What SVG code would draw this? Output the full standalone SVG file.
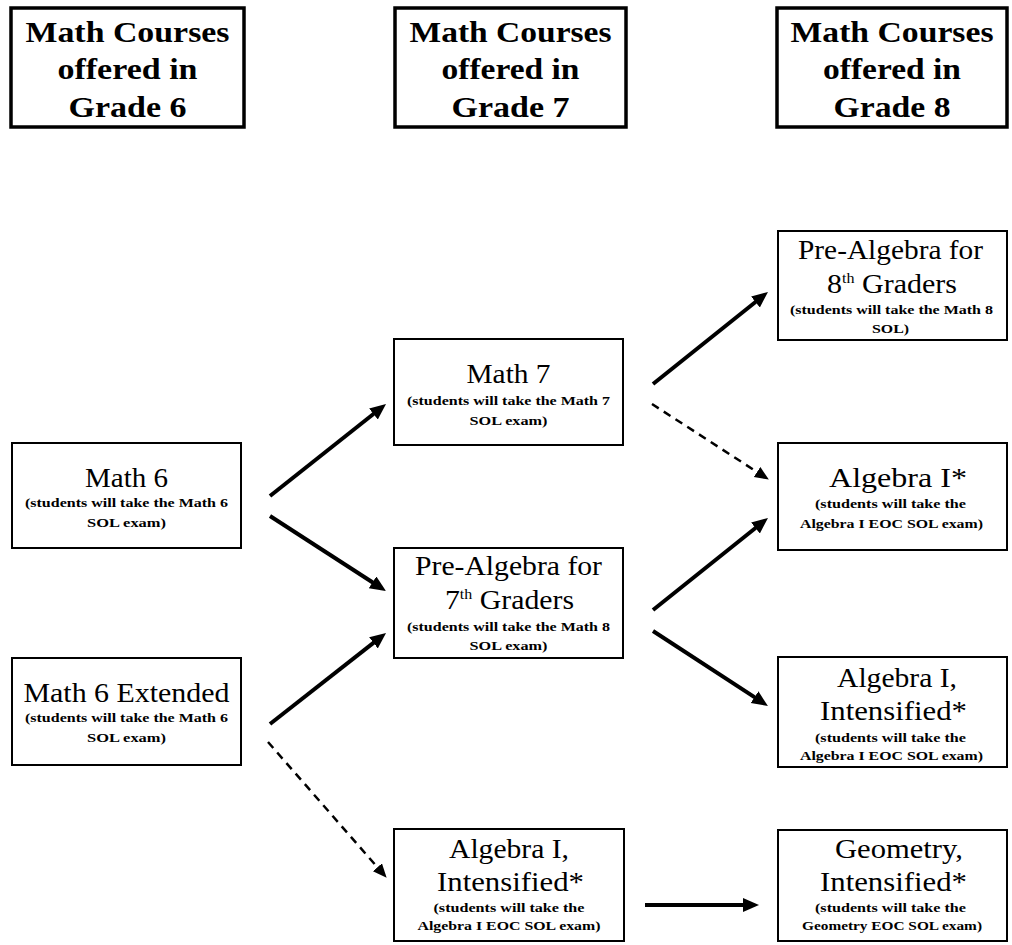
<svg xmlns="http://www.w3.org/2000/svg" width="1012" height="945" viewBox="0 0 1012 945">
<style>
.hdr{fill:#fff;stroke:#000;stroke-width:3.5}
.box{fill:#fff;stroke:#000;stroke-width:2}
.h{font-family:"Liberation Serif","Times New Roman",serif;font-weight:bold;font-size:29px;text-anchor:middle;fill:#000}
.t{font-family:"Liberation Serif","Times New Roman",serif;font-size:28px;text-anchor:middle;fill:#000}
.s{font-family:"Liberation Serif","Times New Roman",serif;font-weight:bold;font-size:13.5px;text-anchor:middle;fill:#000}
.sup{font-size:15px}
.solid{stroke:#000;stroke-width:4;fill:none;marker-end:url(#ah)}
.dash{stroke:#000;stroke-width:2.5;fill:none;stroke-dasharray:8 6;marker-end:url(#ahd)}
</style>
<defs>
<marker id="ah" markerUnits="userSpaceOnUse" markerWidth="20" markerHeight="16" refX="4" refY="7" orient="auto"><path d="M0,0 L16,7 L0,14 z" fill="#000"/></marker>
<marker id="ahd" markerUnits="userSpaceOnUse" markerWidth="18" markerHeight="14" refX="3" refY="6" orient="auto"><path d="M0,0 L14,6 L0,12 z" fill="#000"/></marker>
</defs>
<rect width="1012" height="945" fill="#fff"/>

<g id="hdr6">
<rect class="hdr" x="11" y="8" width="233" height="119"/>
<text class="h" x="127.5" y="42" textLength="204" lengthAdjust="spacingAndGlyphs">Math Courses</text>
<text class="h" x="127.5" y="79" textLength="140" lengthAdjust="spacingAndGlyphs">offered in</text>
<text class="h" x="127.5" y="117" textLength="118" lengthAdjust="spacingAndGlyphs">Grade 6</text>
</g>
<g id="hdr7">
<rect class="hdr" x="395" y="8" width="231" height="119"/>
<text class="h" x="510.5" y="42" textLength="202" lengthAdjust="spacingAndGlyphs">Math Courses</text>
<text class="h" x="510.5" y="79" textLength="138" lengthAdjust="spacingAndGlyphs">offered in</text>
<text class="h" x="510.5" y="117" textLength="118" lengthAdjust="spacingAndGlyphs">Grade 7</text>
</g>
<g id="hdr8">
<rect class="hdr" x="777" y="8" width="230" height="119"/>
<text class="h" x="892" y="42" textLength="203" lengthAdjust="spacingAndGlyphs">Math Courses</text>
<text class="h" x="892" y="79" textLength="138" lengthAdjust="spacingAndGlyphs">offered in</text>
<text class="h" x="892" y="117" textLength="117" lengthAdjust="spacingAndGlyphs">Grade 8</text>
</g>

<g id="math6">
<rect class="box" x="12" y="443" width="229" height="105"/>
<text class="t" x="126.5" y="487" textLength="83" lengthAdjust="spacingAndGlyphs">Math 6</text>
<text class="s" x="126.5" y="507" textLength="203" lengthAdjust="spacingAndGlyphs">(students will take the Math 6</text>
<text class="s" x="126.5" y="527" textLength="79" lengthAdjust="spacingAndGlyphs">SOL exam)</text>
</g>
<g id="math6ext">
<rect class="box" x="12" y="658" width="229" height="107"/>
<text class="t" x="126.5" y="702" textLength="206" lengthAdjust="spacingAndGlyphs">Math 6 Extended</text>
<text class="s" x="126.5" y="722" textLength="203" lengthAdjust="spacingAndGlyphs">(students will take the Math 6</text>
<text class="s" x="126.5" y="742" textLength="79" lengthAdjust="spacingAndGlyphs">SOL exam)</text>
</g>
<g id="math7">
<rect class="box" x="394" y="339" width="229" height="106"/>
<text class="t" x="508.5" y="383" textLength="84" lengthAdjust="spacingAndGlyphs">Math 7</text>
<text class="s" x="508.5" y="405" textLength="203" lengthAdjust="spacingAndGlyphs">(students will take the Math 7</text>
<text class="s" x="508.5" y="425" textLength="78" lengthAdjust="spacingAndGlyphs">SOL exam)</text>
</g>
<g id="prealg7">
<rect class="box" x="394" y="548" width="229" height="110"/>
<text class="t" x="508.5" y="575" textLength="187" lengthAdjust="spacingAndGlyphs">Pre-Algebra for</text>
<text class="t" x="509.5" y="609" textLength="129" lengthAdjust="spacingAndGlyphs">7<tspan class="sup" dy="-10">th</tspan><tspan dy="10"> Graders</tspan></text>
<text class="s" x="508.5" y="631" textLength="203" lengthAdjust="spacingAndGlyphs">(students will take the Math 8</text>
<text class="s" x="508.5" y="650" textLength="78" lengthAdjust="spacingAndGlyphs">SOL exam)</text>
</g>
<g id="alg1int7">
<rect class="box" x="394" y="829" width="230" height="112"/>
<text class="t" x="509" y="858" textLength="120" lengthAdjust="spacingAndGlyphs">Algebra I,</text>
<text class="t" x="510.5" y="891" textLength="147" lengthAdjust="spacingAndGlyphs">Intensified*</text>
<text class="s" x="509" y="912" textLength="151" lengthAdjust="spacingAndGlyphs">(students will take the</text>
<text class="s" x="509" y="930" textLength="183" lengthAdjust="spacingAndGlyphs">Algebra I EOC SOL exam)</text>
</g>

<g id="prealg8">
<rect class="box" x="778" y="231" width="229" height="109"/>
<text class="t" x="890.5" y="259" textLength="185" lengthAdjust="spacingAndGlyphs">Pre-Algebra for</text>
<text class="t" x="892" y="293" textLength="130" lengthAdjust="spacingAndGlyphs">8<tspan class="sup" dy="-10">th</tspan><tspan dy="10"> Graders</tspan></text>
<text class="s" x="891.5" y="314" textLength="203" lengthAdjust="spacingAndGlyphs">(students will take the Math 8</text>
<text class="s" x="890.5" y="333" textLength="37" lengthAdjust="spacingAndGlyphs">SOL)</text>
</g>
<g id="alg1">
<rect class="box" x="778" y="443" width="229" height="107"/>
<text class="t" x="898" y="487" textLength="138" lengthAdjust="spacingAndGlyphs">Algebra I*</text>
<text class="s" x="890.5" y="508" textLength="151" lengthAdjust="spacingAndGlyphs">(students will take the</text>
<text class="s" x="891.5" y="528" textLength="183" lengthAdjust="spacingAndGlyphs">Algebra I EOC SOL exam)</text>
</g>
<g id="alg1int8">
<rect class="box" x="778" y="657" width="229" height="110"/>
<text class="t" x="897" y="687" textLength="120" lengthAdjust="spacingAndGlyphs">Algebra I,</text>
<text class="t" x="893.5" y="720" textLength="147" lengthAdjust="spacingAndGlyphs">Intensified*</text>
<text class="s" x="890.5" y="742" textLength="151" lengthAdjust="spacingAndGlyphs">(students will take the</text>
<text class="s" x="891.5" y="760" textLength="183" lengthAdjust="spacingAndGlyphs">Algebra I EOC SOL exam)</text>
</g>
<g id="geom8">
<rect class="box" x="778" y="830" width="229" height="111"/>
<text class="t" x="899" y="858" textLength="128" lengthAdjust="spacingAndGlyphs">Geometry,</text>
<text class="t" x="893.5" y="891" textLength="147" lengthAdjust="spacingAndGlyphs">Intensified*</text>
<text class="s" x="890.5" y="912" textLength="151" lengthAdjust="spacingAndGlyphs">(students will take the</text>
<text class="s" x="892" y="930" textLength="180" lengthAdjust="spacingAndGlyphs">Geometry EOC SOL exam)</text>
</g>

<g id="connectors">
<line class="solid" x1="270" y1="496" x2="376.6" y2="411.5"/>
<line class="solid" x1="270" y1="516" x2="375.9" y2="584.5"/>
<line class="solid" x1="270" y1="724" x2="376.6" y2="640.4"/>
<line class="dash" x1="268" y1="742" x2="379.4" y2="869.5"/>
<line class="solid" x1="653" y1="384" x2="758.6" y2="299.5"/>
<line class="dash" x1="652" y1="404" x2="759.6" y2="473.6"/>
<line class="solid" x1="653" y1="610" x2="758.6" y2="525.5"/>
<line class="solid" x1="653" y1="631" x2="757.9" y2="699.4"/>
<line class="solid" x1="645" y1="905" x2="747" y2="905"/>
</g>
</svg>
